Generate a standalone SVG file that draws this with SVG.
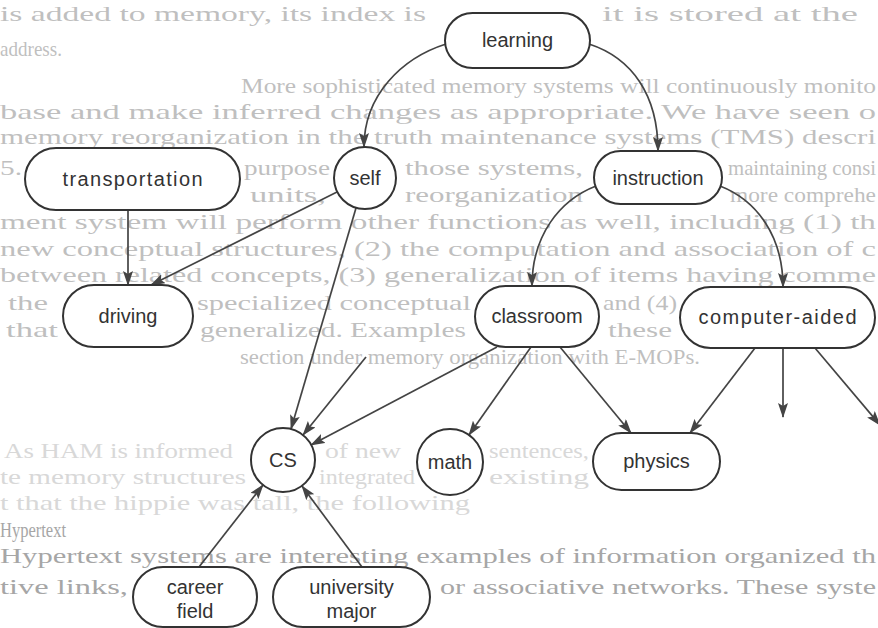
<svg xmlns="http://www.w3.org/2000/svg" width="878" height="628" viewBox="0 0 878 628">
  <defs>
    <marker id="arr" markerUnits="userSpaceOnUse" markerWidth="15" markerHeight="10" viewBox="0 0 15 10" refX="14" refY="5" orient="auto">
      <path d="M0,0 L15,5 L0,10 L3,5 z" fill="#444"/>
    </marker>
    <style>
      .bg { font-family: "Liberation Serif", "Times New Roman", serif; font-size: 21px; fill: #bfbfbf; }
      .bgf { fill: #d8d8d8; }
      .bgd { fill: #a6a6a6; }
      .node { fill: #ffffff; stroke: #333; stroke-width: 2; }
      .lbl { font-family: "Liberation Sans", Arial, sans-serif; font-size: 20px; fill: #333; text-anchor: middle; }
      .edge { fill: none; stroke: #444; stroke-width: 1.7; marker-end: url(#arr); }
    </style>
  </defs>
  <rect width="878" height="628" fill="#ffffff"/>

  <g id="page-text" class="bg">
    <text x="0" y="21" textLength="426" lengthAdjust="spacingAndGlyphs">is added to memory, its index is</text>
    <text x="602" y="21" textLength="256" lengthAdjust="spacingAndGlyphs">it is stored at the</text>
    <text x="0" y="56" textLength="62" lengthAdjust="spacingAndGlyphs">address.</text>
    <text x="241" y="93" textLength="635" lengthAdjust="spacingAndGlyphs">More sophisticated memory systems will continuously monito</text>
    <text x="0" y="119" textLength="876" lengthAdjust="spacingAndGlyphs">base and make inferred changes as appropriate. We have seen o</text>
    <text x="0" y="144" textLength="876" lengthAdjust="spacingAndGlyphs">memory reorganization in the truth maintenance systems (TMS) descri</text>
    <text x="0" y="175" textLength="22" lengthAdjust="spacingAndGlyphs">5.</text>
    <text x="244" y="175" textLength="86" lengthAdjust="spacingAndGlyphs">purpose</text>
    <text x="405" y="175" textLength="178" lengthAdjust="spacingAndGlyphs">those systems,</text>
    <text x="728" y="175" textLength="148" lengthAdjust="spacingAndGlyphs">maintaining consi</text>
    <text x="250" y="202" textLength="76" lengthAdjust="spacingAndGlyphs">units,</text>
    <text x="405" y="202" textLength="178" lengthAdjust="spacingAndGlyphs">reorganization</text>
    <text x="730" y="202" textLength="146" lengthAdjust="spacingAndGlyphs">more comprehe</text>
    <text x="0" y="229" textLength="876" lengthAdjust="spacingAndGlyphs">ment system will perform other functions as well, including (1) th</text>
    <text x="0" y="256" textLength="876" lengthAdjust="spacingAndGlyphs">new conceptual structures, (2) the computation and association of c</text>
    <text x="0" y="282" textLength="876" lengthAdjust="spacingAndGlyphs">between related concepts, (3) generalization of items having comme</text>
    <text x="8" y="310" textLength="40" lengthAdjust="spacingAndGlyphs">the</text>
    <text x="197" y="310" textLength="274" lengthAdjust="spacingAndGlyphs">specialized conceptual</text>
    <text x="603" y="310" textLength="74" lengthAdjust="spacingAndGlyphs">and (4)</text>
    <text x="6" y="337" textLength="52" lengthAdjust="spacingAndGlyphs">that</text>
    <text x="200" y="337" textLength="266" lengthAdjust="spacingAndGlyphs">generalized. Examples</text>
    <text x="608" y="337" textLength="64" lengthAdjust="spacingAndGlyphs">these</text>
    <text x="240" y="364" textLength="460" lengthAdjust="spacingAndGlyphs">section under memory organization with E-MOPs.</text>
    <text class="bgf" x="4" y="458" textLength="229" lengthAdjust="spacingAndGlyphs">As HAM is informed</text>
    <text class="bgf" x="325" y="458" textLength="76" lengthAdjust="spacingAndGlyphs">of new</text>
    <text class="bgf" x="489" y="458" textLength="100" lengthAdjust="spacingAndGlyphs">sentences,</text>
    <text class="bgf" x="0" y="484" textLength="246" lengthAdjust="spacingAndGlyphs">te memory structures</text>
    <text class="bgf" x="319" y="484" textLength="96" lengthAdjust="spacingAndGlyphs">integrated</text>
    <text class="bgf" x="489" y="484" textLength="100" lengthAdjust="spacingAndGlyphs">existing</text>
    <text class="bgf" x="0" y="510" textLength="470" lengthAdjust="spacingAndGlyphs">t that the hippie was tall, the following</text>
    <text class="bgd" x="0" y="537" textLength="66" lengthAdjust="spacingAndGlyphs">Hypertext</text>
    <text class="bgd" x="0" y="563" textLength="876" lengthAdjust="spacingAndGlyphs">Hypertext systems are interesting examples of information organized th</text>
    <text class="bgd" x="0" y="594" textLength="128" lengthAdjust="spacingAndGlyphs">tive links,</text>
    <text class="bgd" x="440" y="594" textLength="436" lengthAdjust="spacingAndGlyphs">or associative networks. These syste</text>
  </g>

  <g id="connectors">
    <path class="edge" d="M446,44 C402,58 364,95 364,147"/>
    <path class="edge" d="M589,44 C632,58 658,95 658,151"/>
    <path class="edge" d="M128,210 L128,285"/>
    <path class="edge" d="M337,192 L151,285"/>
    <path class="edge" d="M356,208 L291,429"/>
    <path class="edge" d="M366,357 L303,435"/>
    <path class="edge" d="M497,347 L311,445"/>
    <path class="edge" d="M531,347 L469,435"/>
    <path class="edge" d="M560,347 L631,433"/>
    <path class="edge" d="M755,348 L690,433"/>
    <path class="edge" d="M783,348 L783,417"/>
    <path class="edge" d="M815,348 L880,425"/>
    <path class="edge" d="M596,186 C560,200 532,235 532,286"/>
    <path class="edge" d="M720,186 C756,200 783,235 783,287"/>
    <path class="edge" d="M199,567 L263,485"/>
    <path class="edge" d="M362,567 L302,486"/>
  </g>

  <g id="learning">
    <rect class="node" x="445" y="13" width="145" height="55" rx="27.5"/>
    <text class="lbl" x="517.5" y="47">learning</text>
  </g>
  <g id="transportation">
    <rect class="node" x="25" y="148" width="215" height="62" rx="31"/>
    <text class="lbl" x="132.5" y="186" textLength="140">transportation</text>
  </g>
  <g id="self">
    <circle class="node" cx="365" cy="178" r="31"/>
    <text class="lbl" x="365" y="185">self</text>
  </g>
  <g id="instruction">
    <rect class="node" x="594" y="151" width="128" height="53" rx="26.5"/>
    <text class="lbl" x="658" y="185">instruction</text>
  </g>
  <g id="driving">
    <rect class="node" x="63" y="285" width="130" height="62" rx="31"/>
    <text class="lbl" x="128" y="323">driving</text>
  </g>
  <g id="classroom">
    <rect class="node" x="475" y="286" width="124" height="61" rx="30.5"/>
    <text class="lbl" x="537" y="323">classroom</text>
  </g>
  <g id="computer-aided">
    <rect class="node" x="680" y="287" width="195" height="61" rx="30.5"/>
    <text class="lbl" x="777.5" y="324" textLength="158">computer-aided</text>
  </g>
  <g id="CS">
    <circle class="node" cx="283" cy="460" r="32"/>
    <text class="lbl" x="283" y="467">CS</text>
  </g>
  <g id="math">
    <circle class="node" cx="450" cy="462" r="33"/>
    <text class="lbl" x="450" y="469">math</text>
  </g>
  <g id="physics">
    <rect class="node" x="593" y="433" width="127" height="57" rx="28.5"/>
    <text class="lbl" x="656.5" y="468">physics</text>
  </g>
  <g id="career-field">
    <rect class="node" x="133" y="567" width="124" height="60" rx="30"/>
    <text class="lbl" x="195" y="594">career</text>
    <text class="lbl" x="195" y="618">field</text>
  </g>
  <g id="university-major">
    <rect class="node" x="273" y="567" width="157" height="60" rx="30"/>
    <text class="lbl" x="351.5" y="594">university</text>
    <text class="lbl" x="351.5" y="618">major</text>
  </g>
</svg>
